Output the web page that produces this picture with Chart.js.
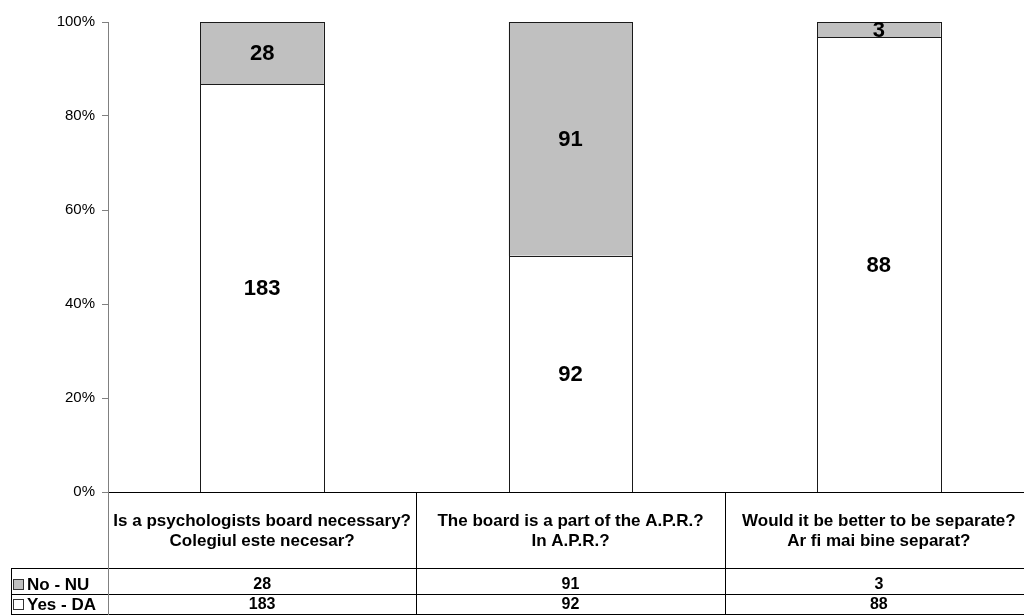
<!DOCTYPE html>
<html>
<head>
<meta charset="utf-8">
<script src="https://cdn.jsdelivr.net/npm/chart.js@4/dist/chart.umd.min.js"></script>
<style>
  html, body { margin: 0; padding: 0; background: #fff; overflow: hidden; }
  #wrap { width: 1034px; height: 616px; position: relative; }
</style>
</head>
<body>
<div id="wrap"><canvas id="c" width="1034" height="616"></canvas></div>
<script>
// ---- data ----
const categories = [
  ["Is a psychologists board necessary?", "Colegiul este necesar?"],
  ["The board is a part of the A.P.R.?", "In A.P.R.?"],
  ["Would it be better to be separate?", "Ar fi mai bine separat?"]
];
const seriesNames = ["Yes - DA", "No - NU"];
const yesValues = [183, 92, 88];
const noValues = [28, 91, 3];
const yTickValues = [0, 20, 40, 60, 80, 100];

const FONT = "'Liberation Sans', Arial, sans-serif";
const totals = yesValues.map((v, i) => v + noValues[i]);
const yesPct = yesValues.map((v, i) => v / totals[i] * 100);
const noPct = noValues.map((v, i) => v / totals[i] * 100);
const rawByDataset = [yesValues, noValues];
const fills = ["#ffffff", "#c0c0c0"];

const labelPlugin = {
  id: 'segLabels',
  afterDatasetsDraw(chart) {
    const ctx = chart.ctx;
    ctx.save();
    // crisp outlines around each bar segment
    ctx.strokeStyle = "#1a1a1a";
    ctx.lineWidth = 1;
    chart.data.datasets.forEach((ds, di) => {
      const meta = chart.getDatasetMeta(di);
      meta.data.forEach((bar) => {
        const l = Math.round(bar.x - bar.width / 2) + 0.5;
        const r = Math.round(bar.x + bar.width / 2) + 0.5;
        const t = Math.round(Math.min(bar.y, bar.base)) + 0.5;
        const b = Math.round(Math.max(bar.y, bar.base)) + 0.5;
        ctx.strokeRect(l, t, r - l, b - t);
      });
    });
    ctx.font = "bold 22px " + FONT;
    ctx.fillStyle = "#000";
    ctx.textAlign = "center";
    ctx.textBaseline = "middle";
    chart.data.datasets.forEach((ds, di) => {
      const meta = chart.getDatasetMeta(di);
      meta.data.forEach((bar, j) => {
        const cy = (bar.y + bar.base) / 2;
        ctx.fillText(String(rawByDataset[di][j]), bar.x, cy + 1);
      });
    });
    ctx.restore();
  }
};

const tablePlugin = {
  id: 'dataTable',
  afterDraw(chart) {
    const ctx = chart.ctx;
    const a = chart.chartArea;
    const xs = chart.scales.x;
    const n = categories.length;
    const w = (a.right - a.left) / n;
    const rowTop = 568, rowMid = 594, rowBot = 614, legLeft = 11;
    ctx.save();
    ctx.strokeStyle = "#000";
    ctx.lineWidth = 1;
    ctx.beginPath();
    ctx.moveTo(a.left, a.bottom + 0.5); ctx.lineTo(a.right, a.bottom + 0.5);
    [rowTop, rowMid, rowBot].forEach(y => {
      ctx.moveTo(legLeft, y + 0.5); ctx.lineTo(a.right, y + 0.5);
    });
    ctx.moveTo(legLeft + 0.5, rowTop); ctx.lineTo(legLeft + 0.5, rowBot + 1);
    for (let i = 1; i <= n; i++) {
      const x = Math.round(a.left + i * w) + 0.5;
      ctx.moveTo(x, a.bottom); ctx.lineTo(x, rowBot + 1);
    }
    ctx.stroke();
    ctx.strokeStyle = "#808080";
    ctx.beginPath();
    ctx.moveTo(a.left + 0.5, a.bottom); ctx.lineTo(a.left + 0.5, rowBot + 1);
    ctx.stroke();

    // category labels
    ctx.fillStyle = "#000";
    ctx.textAlign = "center";
    ctx.textBaseline = "middle";
    ctx.font = "bold 17px " + FONT;
    categories.forEach((lines, i) => {
      const cx = xs.getPixelForValue(i);
      lines.forEach((t, k) => ctx.fillText(t, cx, 521 + k * 20));
    });
    // values
    ctx.font = "bold 16px " + FONT;
    noValues.forEach((v, i) => ctx.fillText(String(v), xs.getPixelForValue(i), 585));
    yesValues.forEach((v, i) => ctx.fillText(String(v), xs.getPixelForValue(i), 605));

    // legend keys
    const rows = [[seriesNames[1], fills[1], 585], [seriesNames[0], fills[0], 605]];
    ctx.textAlign = "left";
    ctx.font = "bold 17px " + FONT;
    rows.forEach(([name, fill, y]) => {
      ctx.fillStyle = fill;
      ctx.fillRect(13.5, y - 5.5, 10, 10);
      ctx.strokeStyle = "#333";
      ctx.strokeRect(13.5, y - 5.5, 10, 10);
      ctx.fillStyle = "#000";
      ctx.fillText(name, 27, y);
    });
    ctx.restore();
  }
};

new Chart(document.getElementById('c'), {
  type: 'bar',
  data: {
    labels: categories.map(c => c.join(' ')),
    datasets: [
      { label: seriesNames[0], data: yesPct, backgroundColor: fills[0], borderWidth: 0 },
      { label: seriesNames[1], data: noPct, backgroundColor: fills[1], borderWidth: 0 }
    ]
  },
  options: {
    responsive: false,
    animation: false,
    layout: { padding: { top: 22, bottom: 124, left: 0, right: 1 } },
    plugins: { legend: { display: false }, tooltip: { enabled: false } },
    datasets: { bar: { categoryPercentage: 1, barPercentage: 0.4 } },
    scales: {
      x: { stacked: true, display: false },
      y: {
        stacked: true, min: 0, max: 100,
        afterFit(scale) { scale.width = 108; },
        afterBuildTicks(scale) { scale.ticks = yTickValues.map(v => ({ value: v })); },
        ticks: {
          callback: v => v + '%',
          color: '#000',
          font: { family: FONT, size: 15 },
          padding: 7
        },
        grid: { drawOnChartArea: false, drawTicks: true, tickLength: 6, color: '#808080' },
        border: { display: true, color: '#808080' }
      }
    }
  },
  plugins: [labelPlugin, tablePlugin]
});
</script>
</body>
</html>
